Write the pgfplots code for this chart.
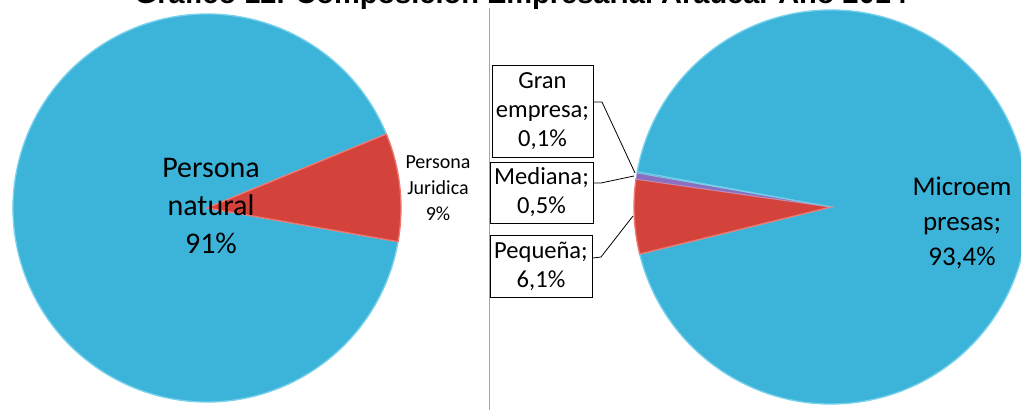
\documentclass[border=0pt]{standalone}
\usepackage{pgfplots}
\pgfplotsset{compat=1.18}
\usepackage{pgfplotstable}
\usepackage{fontspec}
\setmainfont{Carlito}
\newfontfamily\titlefont{Liberation Sans}

\definecolor{azul}{RGB}{60,180,217}
\definecolor{azulborde}{RGB}{120,210,235}
\definecolor{rojo}{RGB}{212,66,60}
\definecolor{rojoborde}{RGB}{236,120,112}
\definecolor{lila}{RGB}{140,112,192}
\definecolor{gris}{RGB}{165,165,165}

% participacion (%)
\pgfplotstableread{
grupo    share
natural  91
juridica 9
}\izq
\pgfplotstableread{
grupo    share
micro    93.4
pequena  6.1
mediana  0.5
gran     0.1
}\der

\begin{document}
\begin{tikzpicture}
\useasboundingbox (0,0) rectangle (765.75pt,307.5pt);
\clip (0,0) rectangle (765.75pt,307.5pt);

\pgfplotstablegetelem{1}{share}\of\izq \let\pJur\pgfplotsretval
\pgfplotstablegetelem{1}{share}\of\der \let\pPeq\pgfplotsretval
\pgfplotstablegetelem{2}{share}\of\der \let\pMed\pgfplotsretval
\pgfplotstablegetelem{3}{share}\of\der \let\pGra\pgfplotsretval
% angulos de las porciones
\pgfmathsetmacro\aA{-10}
\pgfmathsetmacro\aB{\aA+3.6*\pJur}
\pgfmathsetmacro\aC{\aA+360}
\pgfmathsetmacro\bA{169.7}
\pgfmathsetmacro\bB{\bA+3.6*\pGra}
\pgfmathsetmacro\bC{\bB+3.6*\pMed}
\pgfmathsetmacro\bD{\bC+3.6*\pPeq}
\pgfmathsetmacro\bE{\bA+360}

\begin{axis}[
    at={(0,0)}, anchor=south west,
    scale only axis,
    width=765.75pt, height=307.5pt,
    xmin=0, xmax=1021, ymin=0, ymax=410,
    hide axis, clip=false
  ]
  % torta izquierda
  \fill[azul, draw=azulborde, line width=1pt] (axis cs:207,202) -- ++(\aB:145.5pt)
    arc[start angle=\aB, end angle=\aC, radius=145.5pt] -- cycle;
  \fill[rojo, draw=rojoborde, line width=1pt] (axis cs:207,202) -- ++(\aA:145.5pt)
    arc[start angle=\aA, end angle=\aB, radius=145.5pt] -- cycle;

  % torta derecha
  \fill[azul, draw=azulborde, line width=1pt] (axis cs:831,203) -- ++(\bD:147.75pt)
    arc[start angle=\bD, end angle=\bE, radius=147.75pt] -- cycle;
  \fill[rojo, draw=rojoborde, line width=1pt] (axis cs:831,203) -- ++(\bC:147.75pt)
    arc[start angle=\bC, end angle=\bD, radius=147.75pt] -- cycle;
  \fill[lila, draw=lila!70!white, line width=0.4pt] (axis cs:831,203) -- ++(\bB:147.75pt)
    arc[start angle=\bB, end angle=\bC, radius=147.75pt] -- cycle;
  \fill[azul!70!lila, draw=azulborde, line width=0.4pt] (axis cs:831,203) -- ++(\bA:147.75pt)
    arc[start angle=\bA, end angle=\bB, radius=147.75pt] -- cycle;

  % separador
  \draw[gris, line width=0.75pt] (axis cs:489,402) -- (axis cs:489,0);

  % titulo (cortado arriba, como en el original)
  \node[anchor=base, font=\titlefont\bfseries\fontsize{21.75pt}{24pt}\selectfont]
    at (axis cs:521,406) {Gráfico 12. Composición Empresarial Arauca. Año 2014};

  % etiquetas izquierda
  \node[align=center, font=\fontsize{22.5pt}{28.5pt}\selectfont]
    at (axis cs:211,204) {Persona\\natural\\91\%};
  \node[align=center, font=\fontsize{15pt}{19.5pt}\selectfont]
    at (axis cs:438,222) {Persona\\Juridica\\9\%};

  % etiquetas derecha
  \node[align=center, font=\fontsize{20.25pt}{26pt}\selectfont]
    at (axis cs:962,187) {Microem\\presas;\\93,4\%};
  \node[draw=black, fill=white, line width=0.6pt, align=center, inner sep=0pt,
    minimum width=75.75pt, minimum height=69pt, font=\fontsize{18.4pt}{21.75pt}\selectfont]
    at (axis cs:542.5,299) {Gran\\empresa;\\0,1\%};
  \node[draw=black, fill=white, line width=0.6pt, align=center, inner sep=0pt,
    minimum width=77.25pt, minimum height=45.75pt, font=\fontsize{18.4pt}{21.75pt}\selectfont]
    at (axis cs:541.5,217.5) {Mediana;\\0,5\%};
  \node[draw=black, fill=white, line width=0.6pt, align=center, inner sep=0pt,
    minimum width=76.5pt, minimum height=46.5pt, font=\fontsize{18.4pt}{21.75pt}\selectfont]
    at (axis cs:541,144) {Pequeña;\\6,1\%};

  % lineas guia
  \draw[line width=0.6pt] (axis cs:593,308) -- (axis cs:602,308) -- (axis cs:635,237);
  \draw[line width=0.6pt] (axis cs:593,227) -- (axis cs:601,227) -- (axis cs:634,234);
  \draw[line width=0.6pt] (axis cs:593,152) -- (axis cs:601,153) -- (axis cs:633,194);
\end{axis}
\end{tikzpicture}
\end{document}
